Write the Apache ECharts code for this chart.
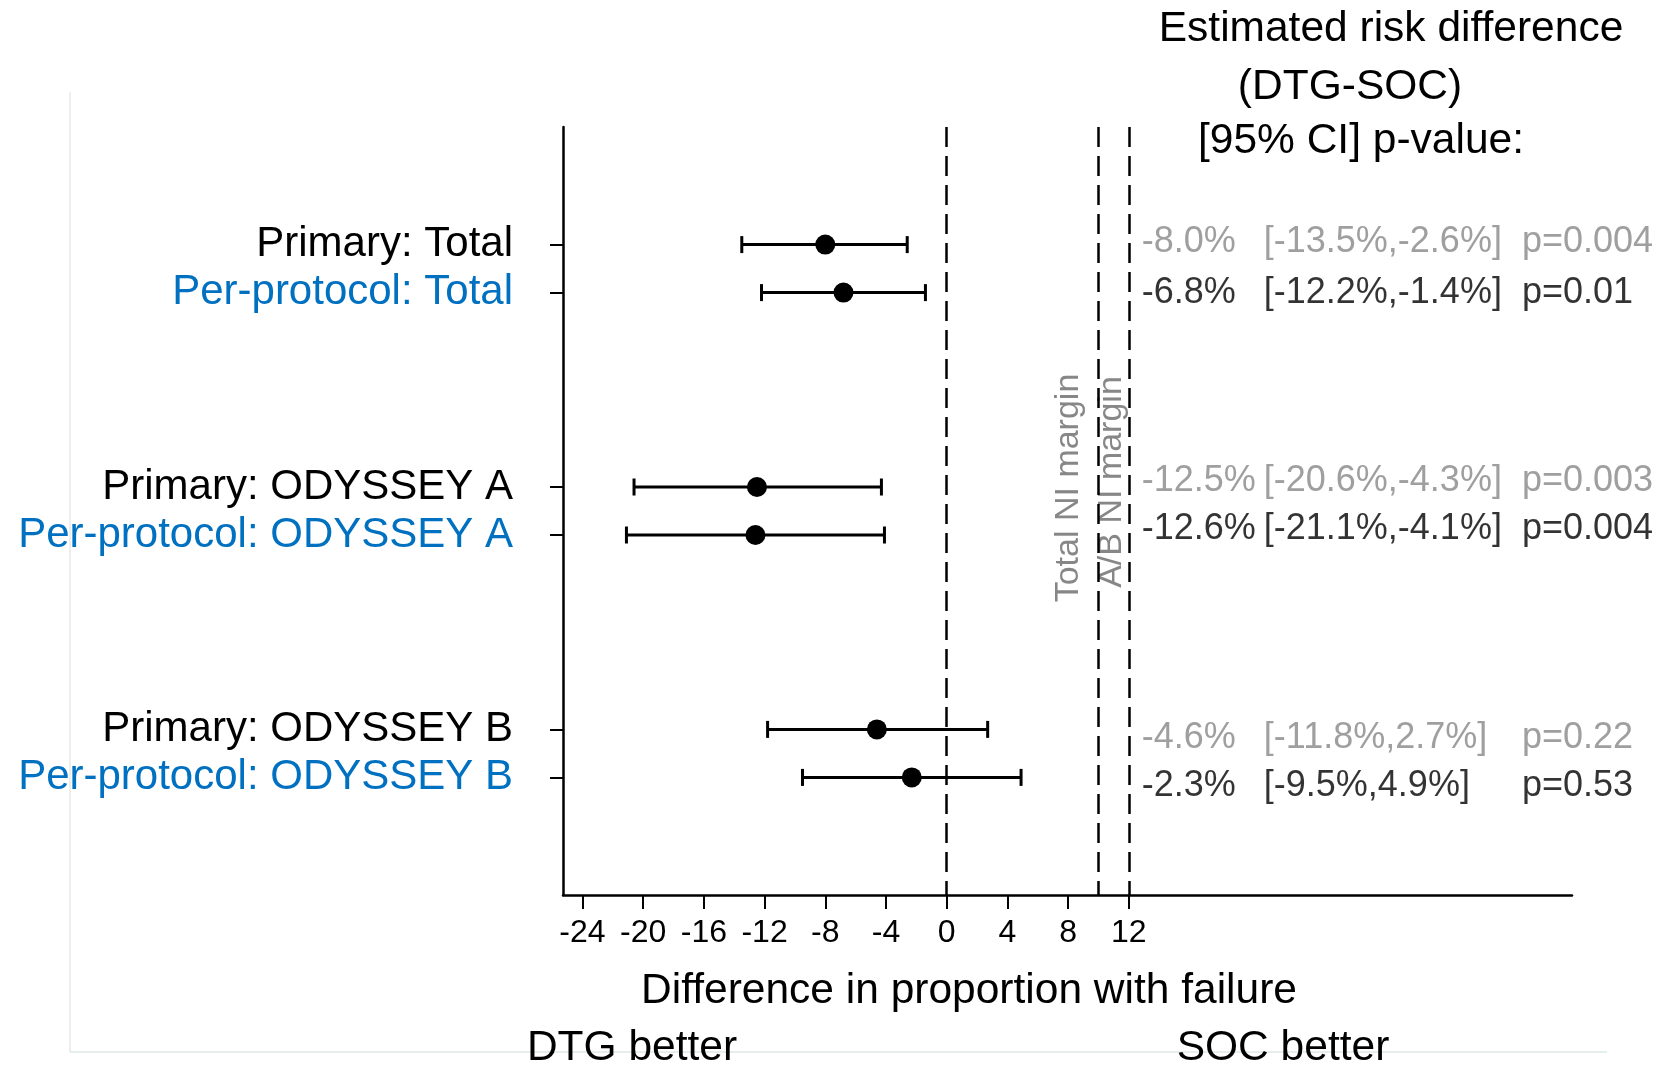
<!DOCTYPE html>
<html>
<head>
<meta charset="utf-8">
<script src="https://cdn.jsdelivr.net/npm/echarts@6/dist/echarts.min.js"></script>
<style>
  html, body { margin: 0; padding: 0; background: #fff; }
  #chart { width: 1660px; height: 1066px; }
</style>
</head>
<body>
<div id="chart"></div>
<script>
var rowLabels = ['Primary: Total', 'Per-protocol: Total', 'Primary: ODYSSEY A', 'Per-protocol: ODYSSEY A', 'Primary: ODYSSEY B', 'Per-protocol: ODYSSEY B'];
var rowIsPrimary = [true, false, true, false, true, false];
var rowPos = [4.9, 6.9, 15.0, 17.0, 25.1, 27.1];
var statPos = [4.8, 6.9, 14.75, 16.75, 25.45, 27.45];

var estimate = [-8.0, -6.8, -12.5, -12.6, -4.6, -2.3];
var ciLow = [-13.5, -12.2, -20.6, -21.1, -11.8, -9.5];
var ciHigh = [-2.6, -1.4, -4.3, -4.1, 2.7, 4.9];

var estText = ['-8.0%', '-6.8%', '-12.5%', '-12.6%', '-4.6%', '-2.3%'];
var ciText = ['[-13.5%,-2.6%]', '[-12.2%,-1.4%]', '[-20.6%,-4.3%]', '[-21.1%,-4.1%]', '[-11.8%,2.7%]', '[-9.5%,4.9%]'];
var pText = ['p=0.004', 'p=0.01', 'p=0.003', 'p=0.004', 'p=0.22', 'p=0.53'];

var xTicks = [-24, -20, -16, -12, -8, -4, 0, 4, 8, 12];
var refLines = [0, 10, 12];
var statCols = [12.82, 20.86, 37.87];

var FONT = '"Liberation Sans", Arial, sans-serif';
var BLUE = '#0070c0';
var GRAY = '#878787';

const chart = echarts.init(document.getElementById('chart'));

const statSeries = [estText, ciText, pText].map(function (texts, c) {
    return {
        type: 'scatter',
        symbolSize: 1,
        itemStyle: { color: 'transparent' },
        silent: true,
        z: 5,
        data: texts.map(function (t, i) {
            return {
                value: [statCols[c], statPos[i]],
                name: t,
                label: { color: rowIsPrimary[i] ? GRAY : '#000000' }
            };
        }),
        label: {
            show: true,
            position: 'right',
            distance: 0,
            fontSize: 36,
            color: '#000000',
            textBorderWidth: 0,
            fontFamily: FONT,
            formatter: function (p) { return p.name; }
        }
    };
});

const option = {
    animation: false,
    textStyle: { fontFamily: FONT },
    grid: { left: 563, right: 88, top: 127, bottom: 171 },
    xAxis: {
        type: 'value',
        min: -25.28,
        max: 41.2,
        splitLine: { show: false },
        axisLine: { show: true, onZero: false, lineStyle: { color: '#000', width: 2.5 } },
        axisTick: { show: true, customValues: xTicks, length: 14, lineStyle: { color: '#000', width: 2 } },
        axisLabel: { customValues: xTicks, fontSize: 32, color: '#000', margin: 22, fontFamily: FONT }
    },
    yAxis: {
        type: 'value',
        inverse: true,
        min: 0,
        max: 32,
        splitLine: { show: false },
        axisLine: { show: true, onZero: false, lineStyle: { color: '#000', width: 2.5 } },
        axisTick: { show: true, customValues: rowPos, length: 13, lineStyle: { color: '#000', width: 2 } },
        axisLabel: {
            customValues: rowPos,
            margin: 50,
            fontFamily: FONT,
            formatter: function (v) {
                var i = rowPos.indexOf(v);
                if (i < 0) return '';
                return (rowIsPrimary[i] ? '{p|' : '{b|') + rowLabels[i] + '}';
            },
            rich: {
                p: { color: '#000', fontSize: 42, fontFamily: FONT },
                b: { color: BLUE, fontSize: 42, fontFamily: FONT }
            }
        }
    },
    series: [
        {
            type: 'custom',
            encode: { x: [0, 1], y: 2 },
            data: rowPos.map(function (y, i) { return [ciLow[i], ciHigh[i], y]; }),
            renderItem: function (params, api) {
                var y = api.value(2);
                var a = api.coord([api.value(0), y]);
                var b = api.coord([api.value(1), y]);
                var h = 8.5;
                var st = { stroke: '#000', lineWidth: 3 };
                return {
                    type: 'group',
                    children: [
                        { type: 'line', shape: { x1: a[0], y1: a[1], x2: b[0], y2: b[1] }, style: st },
                        { type: 'line', shape: { x1: a[0], y1: a[1] - h, x2: a[0], y2: a[1] + h }, style: st },
                        { type: 'line', shape: { x1: b[0], y1: b[1] - h, x2: b[0], y2: b[1] + h }, style: st }
                    ]
                };
            },
            z: 3
        },
        {
            type: 'scatter',
            symbol: 'circle',
            symbolSize: 20,
            itemStyle: { color: '#000', opacity: 1 },
            data: rowPos.map(function (y, i) { return [estimate[i], y]; }),
            z: 4,
            markLine: {
                silent: true,
                symbol: 'none',
                label: { show: false },
                lineStyle: { color: '#000', width: 2.5, type: [20, 9], opacity: 1 },
                data: refLines.map(function (v) { return { xAxis: v }; })
            }
        }
    ].concat(statSeries),
    graphic: [
        { type: 'line', shape: { x1: 70, y1: 92, x2: 70, y2: 1052 }, style: { stroke: '#eeeeee', lineWidth: 2 }, silent: true },
        { type: 'line', shape: { x1: 70, y1: 1052, x2: 1607, y2: 1052 }, style: { stroke: '#e6eeee', lineWidth: 2 }, silent: true },
        { type: 'text', x: 1391, y: 29, style: { text: 'Estimated risk difference', font: '42.5px ' + FONT, fill: '#000', textAlign: 'center', textVerticalAlign: 'middle' } },
        { type: 'text', x: 1350, y: 87, style: { text: '(DTG-SOC)', font: '42.5px ' + FONT, fill: '#000', textAlign: 'center', textVerticalAlign: 'middle' } },
        { type: 'text', x: 1361, y: 141, style: { text: '[95% CI] p-value:', font: '42.5px ' + FONT, fill: '#000', textAlign: 'center', textVerticalAlign: 'middle' } },
        { type: 'text', x: 969, y: 991, style: { text: 'Difference in proportion with failure', font: '42.5px ' + FONT, fill: '#000', textAlign: 'center', textVerticalAlign: 'middle' } },
        { type: 'text', x: 632, y: 1048, style: { text: 'DTG better', font: '42.5px ' + FONT, fill: '#000', textAlign: 'center', textVerticalAlign: 'middle' } },
        { type: 'text', x: 1283, y: 1048, style: { text: 'SOC better', font: '42.5px ' + FONT, fill: '#000', textAlign: 'center', textVerticalAlign: 'middle' } },
        { type: 'text', x: 1069, y: 488, rotation: Math.PI / 2, style: { text: 'Total NI margin', font: '34px ' + FONT, fill: GRAY, textAlign: 'center', textVerticalAlign: 'middle' } },
        { type: 'text', x: 1112, y: 482, rotation: Math.PI / 2, style: { text: 'A/B NI margin', font: '34px ' + FONT, fill: GRAY, textAlign: 'center', textVerticalAlign: 'middle' } }
    ]
};

chart.setOption(option);
</script>
</body>
</html>
